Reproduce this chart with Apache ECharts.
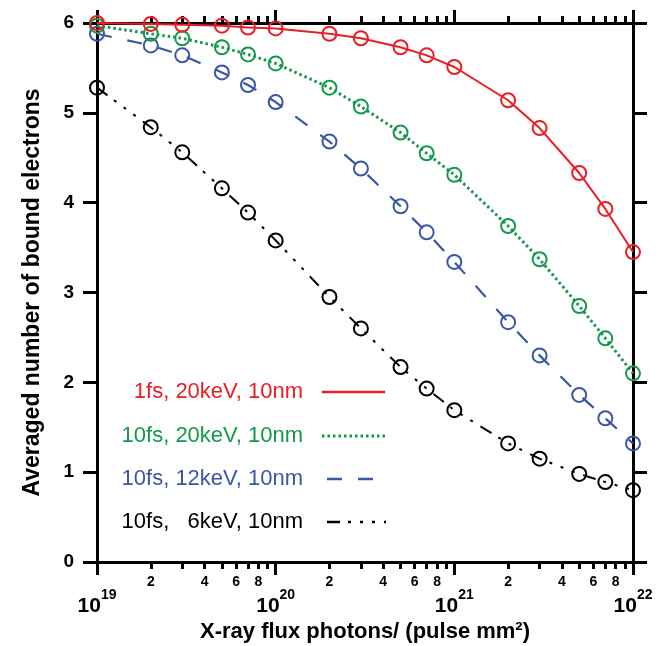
<!DOCTYPE html>
<html>
<head>
<meta charset="utf-8">
<script src="https://cdn.jsdelivr.net/npm/echarts@6/dist/echarts.min.js"></script>
<style>
html, body { margin: 0; padding: 0; background: #fff; }
#chart { width: 666px; height: 646px; }
</style>
</head>
<body>
<div id="chart"></div>
<script>
// X-ray flux (photons per pulse mm^2) at which each run was evaluated
const fluxValues = [1e19, 2e19, 3e19, 5e19, 7e19, 1e20, 2e20, 3e20, 5e20, 7e20, 1e21, 2e21, 3e21, 5e21, 7e21, 1e22];

// Averaged number of bound electrons per run
const bound1fs20keV  = [6.00, 5.99, 5.98, 5.97, 5.95, 5.94, 5.88, 5.83, 5.73, 5.64, 5.51, 5.14, 4.83, 4.33, 3.93, 3.45];
const bound10fs20keV = [5.97, 5.88, 5.83, 5.73, 5.65, 5.55, 5.28, 5.07, 4.78, 4.55, 4.31, 3.74, 3.37, 2.85, 2.49, 2.10];
const bound10fs12keV = [5.88, 5.75, 5.64, 5.45, 5.31, 5.12, 4.68, 4.38, 3.96, 3.67, 3.34, 2.67, 2.30, 1.86, 1.60, 1.32];
const bound10fs6keV  = [5.28, 4.84, 4.56, 4.16, 3.89, 3.58, 2.95, 2.60, 2.17, 1.93, 1.69, 1.32, 1.15, 0.98, 0.89, 0.80];

const seriesNames = ['1fs, 20keV, 10nm', '10fs, 20keV, 10nm', '10fs, 12keV, 10nm', '10fs,   6keV, 10nm'];

// Axis ticks: decades, minor multipliers within a decade, labelled multipliers
const decadeExponents = [19, 20, 21, 22];
const minorMultipliers = [2, 3, 4, 5, 6, 7, 8, 9];
const minorLabelMultipliers = [2, 4, 6, 8];
const yMin = 0, yMax = 6, yStep = 1;

const FONT = '"Liberation Sans", Arial, Helvetica, sans-serif';
const RED = '#ec1c24', GREEN = '#14994a', BLUE = '#3a56a6', BLACK = '#000000';
const colors = [RED, GREEN, BLUE, BLACK];
const dashes = ['solid', [2.5, 3], [15, 16], [13, 8, 3, 9, 3, 9, 3, 9]];
const widths = [2, 3, 2.2, 2];

const allSeries = [bound1fs20keV, bound10fs20keV, bound10fs12keV, bound10fs6keV];

const lowExp = decadeExponents[0], highExp = decadeExponents[decadeExponents.length - 1];
const minorTickPositions = decadeExponents.slice(0, -1)
  .flatMap(e => minorMultipliers.map(m => e + Math.log10(m)));
const minorLabelPositions = decadeExponents.slice(0, -1)
  .flatMap(e => minorLabelMultipliers.map(m => e + Math.log10(m)));

const chart = echarts.init(document.getElementById('chart'), null, { renderer: 'canvas' });

const axisLineStyle = { color: '#000', width: 3 };
const majorTick = { show: true, inside: false, length: 13, lineStyle: { color: '#000', width: 3 } };
const minorTickStyle = { show: true, inside: false, length: 7, customValues: minorTickPositions, lineStyle: { color: '#000', width: 3 } };

const option = {
  animation: false,
  backgroundColor: '#fff',
  grid: { left: 97, right: 33, top: 23, bottom: 84, containLabel: false, outerBoundsMode: 'none' },
  xAxis: [
    {
      // data axis: logarithmic flux, bottom, with decade labels
      type: 'log', logBase: 10, min: Math.pow(10, lowExp), max: Math.pow(10, highExp),
      position: 'bottom',
      axisLine: { show: true, onZero: false, lineStyle: axisLineStyle },
      axisTick: majorTick,
      splitLine: { show: false },
      axisLabel: {
        margin: 26,
        formatter: v => '{b|10}{s|' + Math.round(Math.log10(v)) + '}',
        rich: {
          b: { fontFamily: FONT, fontWeight: 'bold', fontSize: 21, color: '#000', lineHeight: 22, padding: [14, 0, 0, 0] },
          s: { fontFamily: FONT, fontWeight: 'bold', fontSize: 14, color: '#000', lineHeight: 14, verticalAlign: 'top' }
        }
      },
      name: 'X-ray flux photons/ (pulse mm²)',
      nameLocation: 'middle', nameGap: 57,
      nameTextStyle: { fontFamily: FONT, fontWeight: 'bold', fontSize: 22, color: '#000' }
    },
    {
      // minor ticks between decades, bottom
      type: 'value', min: lowExp, max: highExp, position: 'bottom',
      axisLine: { show: false, onZero: false },
      axisTick: minorTickStyle,
      splitLine: { show: false },
      axisLabel: {
        show: true, margin: 13, customValues: minorLabelPositions,
        fontFamily: FONT, fontWeight: 'bold', fontSize: 14, color: '#000',
        formatter: v => String(Math.round(Math.pow(10, v - Math.floor(v + 1e-9))))
      }
    },
    {
      // mirrored frame: decades, top
      type: 'log', logBase: 10, min: Math.pow(10, lowExp), max: Math.pow(10, highExp),
      position: 'top',
      axisLine: { show: true, onZero: false, lineStyle: axisLineStyle },
      axisTick: majorTick,
      axisLabel: { show: false },
      splitLine: { show: false }
    },
    {
      // mirrored frame: minor ticks, top
      type: 'value', min: lowExp, max: highExp, position: 'top',
      axisLine: { show: false, onZero: false },
      axisTick: minorTickStyle,
      axisLabel: { show: false },
      splitLine: { show: false }
    }
  ],
  yAxis: [
    {
      type: 'value', min: yMin, max: yMax, interval: yStep, position: 'left',
      axisLine: { show: true, onZero: false, lineStyle: axisLineStyle },
      axisTick: { show: true, inside: false, length: 14, lineStyle: { color: '#000', width: 3 } },
      splitLine: { show: false },
      axisLabel: { margin: 23, fontFamily: FONT, fontWeight: 'bold', fontSize: 19, color: '#000' },
      name: 'Averaged number of bound electrons',
      nameLocation: 'middle', nameGap: 53, nameRotate: 90,
      nameTextStyle: { fontFamily: FONT, fontWeight: 'bold', fontSize: 23, color: '#000' }
    },
    {
      type: 'value', min: yMin, max: yMax, interval: yStep, position: 'right',
      axisLine: { show: true, onZero: false, lineStyle: axisLineStyle },
      axisTick: { show: true, inside: false, length: 14, lineStyle: { color: '#000', width: 3 } },
      splitLine: { show: false },
      axisLabel: { show: false }
    }
  ],
  series: allSeries.map((vals, i) => ({
    name: seriesNames[i],
    type: 'line',
    xAxisIndex: 0,
    yAxisIndex: 0,
    data: fluxValues.map((f, k) => [f, vals[k]]),
    symbol: 'circle',
    symbolSize: 14,
    showSymbol: true,
    z: 10 - i,
    itemStyle: { color: 'rgba(0,0,0,0)', borderColor: colors[i], borderWidth: 2 },
    lineStyle: { color: colors[i], width: widths[i], type: dashes[i], cap: 'butt' },
    emphasis: { disabled: true }
  })),
  graphic: []
};

// Key: series name on the left, line sample on the right
const keyRows = [
  { y: 392, x1: 322, x2: 385 },
  { y: 436, x1: 322, x2: 385 },
  { y: 479, x1: 327, x2: 375 },
  { y: 522, x1: 327, x2: 386 }
];
keyRows.forEach((row, i) => {
  option.graphic.push({
    type: 'text', z: 20,
    style: {
      text: seriesNames[i], x: 303, y: row.y,
      textAlign: 'right', textVerticalAlign: 'middle',
      fontFamily: FONT, fontSize: 22, fill: colors[i]
    }
  });
  option.graphic.push({
    type: 'line', z: 20,
    shape: { x1: row.x1, y1: row.y, x2: row.x2, y2: row.y },
    style: {
      stroke: colors[i], lineWidth: i === 1 ? 3 : 2.5,
      lineDash: dashes[i] === 'solid' ? null : dashes[i], lineCap: 'butt'
    }
  });
});

chart.setOption(option);
</script>
</body>
</html>
